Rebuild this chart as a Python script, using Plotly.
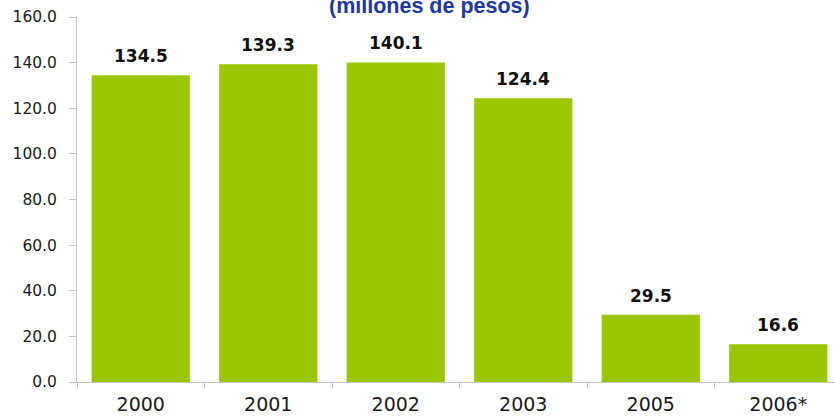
import plotly.graph_objects as go

years = ["2000", "2001", "2002", "2003", "2005", "2006*"]
values = [134.5, 139.3, 140.1, 124.4, 29.5, 16.6]
value_labels = ["134.5", "139.3", "140.1", "124.4", "29.5", "16.6"]
y_ticks = [0, 20, 40, 60, 80, 100, 120, 140, 160]
y_tick_labels = ["0.0", "20.0", "40.0", "60.0", "80.0", "100.0", "120.0", "140.0", "160.0"]
title_text = "(millones de pesos)"

FONT = "DejaVu Sans, Arial"
TITLE_FONT = "Liberation Sans, Arial"
L, T, B, R = 77, 17, 35, 0
W, H = 835, 417

fig = go.Figure(go.Bar(
    x=years, y=values,
    marker=dict(color="#99c700", line=dict(width=0)),
    width=0.77,
))

annotations = [dict(
    text=f"<b>{title_text}</b>", x=(429 - L) / (W - L - R), y=0.991,
    xref="paper", yref="paper", xanchor="center", yanchor="bottom",
    showarrow=False, font=dict(family=TITLE_FONT, size=21.5, color="#1c36a3"),
)]
for i, (v, lab) in enumerate(zip(values, value_labels)):
    annotations.append(dict(
        text=f"<b>{lab}</b>", x=i, y=v, xref="x", yref="y",
        xanchor="center", yanchor="bottom", yshift=7, showarrow=False,
        font=dict(family=FONT, size=17, color="#111111"),
    ))

fig.update_layout(
    width=W, height=H,
    margin=dict(l=L, r=R, t=T, b=B, autoexpand=False),
    paper_bgcolor="white", plot_bgcolor="white",
    showlegend=False,
    font=dict(family=FONT, color="#222222"),
    annotations=annotations,
)
fig.update_xaxes(
    type="category",
    range=[-0.5, 5.445], showline=True, linecolor="#c4c4c4", linewidth=1,
    ticks="outside", tickson="boundaries", ticklen=5, tickcolor="#c4c4c4",
    tickfont=dict(size=19, color="#1a1a1a"), ticklabelstandoff=5,
    showgrid=False, automargin=False,
)
fig.update_yaxes(
    range=[0, 160], tickvals=y_ticks, ticktext=y_tick_labels,
    showline=True, linecolor="#c4c4c4", linewidth=1,
    ticks="outside", ticklen=7, tickcolor="#c4c4c4",
    tickfont=dict(size=15.5, color="#1a1a1a"), ticklabelstandoff=9,
    showgrid=False, zeroline=False, automargin=False,
)

fig.write_html(
    "out.html",
    config={"displayModeBar": False},
    post_script="document.body.style.margin='0';document.body.style.overflow='hidden';",
)
